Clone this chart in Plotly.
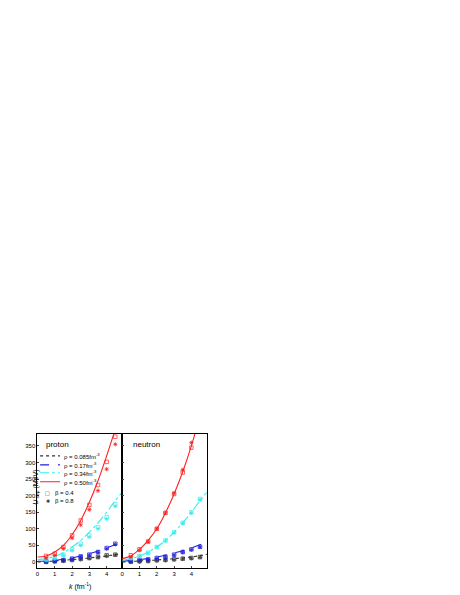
import plotly.graph_objects as go

kc = [0, 0.5, 1, 1.5, 2, 2.5, 3, 3.5, 4, 4.5]
p_red = [15, 18, 30, 50, 82, 125, 180, 245, 320, 400]
p_cyan = [7, 10, 17, 28, 45, 65, 90, 118, 150, 185]
p_blue = [2, 3, 5, 8, 12, 18, 25, 33, 42, 52]
p_black = [0, 1, 3, 5, 7, 9, 12, 15, 18, 22]
n_red = [10, 18, 38, 65, 100, 148, 205, 272, 350, 440]
n_cyan = [5, 10, 18, 30, 45, 65, 90, 118, 150, 185]
n_blue = [2, 4, 7, 10, 15, 20, 27, 34, 42, 52]
n_black = [0, 1, 3, 4, 6, 8, 10, 12, 15, 19]
kc_ext = 4.9
p_ext = {"red": 460, "cyan": 210, "blue": 60, "black": 25}
n_ext = {"red": 500, "cyan": 210, "blue": 60, "black": 23}

km = [0.5, 1, 1.5, 2, 2.5, 3, 3.5, 4, 4.5]
p_red_b4 = [18, 25, 45, 80, 125, 172, 232, 302, 378]
p_red_b8 = [12, 20, 40, 72, 112, 158, 215, 280, 355]
p_cyan_b4 = [8, 12, 22, 38, 55, 80, 105, 135, 175]
p_cyan_b8 = [5, 10, 20, 35, 50, 75, 100, 130, 168]
p_blue_b4 = [2, 4, 6, 10, 17, 22, 30, 42, 55]
p_blue_b8 = [1, 3, 5, 9, 15, 21, 28, 40, 53]
p_black_b4 = [0, 2, 4, 6, 9, 12, 15, 20, 22]
p_black_b8 = [0, 1, 3, 5, 8, 11, 14, 18, 21]
n_red_b4 = [20, 38, 62, 100, 148, 205, 270, 345, None]
n_red_b8 = [15, 35, 60, 100, 148, 208, 278, 360, None]
n_cyan_b4 = [12, 18, 28, 45, 65, 90, 118, 150, 190]
n_cyan_b8 = [10, 17, 27, 44, 63, 88, 116, 148, 188]
n_blue_b4 = [3, 6, 8, 12, 16, 22, 30, 38, 46]
n_blue_b8 = [2, 5, 7, 11, 15, 21, 29, 37, 45]
n_black_b4 = [1, 2, 3, 5, 6, 8, 10, 12, 15]
n_black_b8 = [0, 1, 2, 4, 5, 7, 9, 11, 14]

colors = {"red": "#ff2020", "cyan": "#33eeee", "blue": "#2020dd", "black": "#333333"}
dashes = {"red": "solid", "cyan": "dashdot", "blue": "dash", "black": "dot"}
labels = {"black": "ρ = 0.085fm<sup>-3</sup>", "blue": "ρ = 0.17fm<sup>-3</sup>",
          "cyan": "ρ = 0.34fm<sup>-3</sup>", "red": "ρ = 0.50fm<sup>-3</sup>"}
beta_labels = ["β = 0.4", "β = 0.8"]

fig = go.Figure()
panels = [
    ("x", "y", {"red": p_red, "cyan": p_cyan, "blue": p_blue, "black": p_black}, p_ext,
     {"red": (p_red_b4, p_red_b8), "cyan": (p_cyan_b4, p_cyan_b8),
      "blue": (p_blue_b4, p_blue_b8), "black": (p_black_b4, p_black_b8)}),
    ("x2", "y2", {"red": n_red, "cyan": n_cyan, "blue": n_blue, "black": n_black}, n_ext,
     {"red": (n_red_b4, n_red_b8), "cyan": (n_cyan_b4, n_cyan_b8),
      "blue": (n_blue_b4, n_blue_b8), "black": (n_black_b4, n_black_b8)}),
]
for i, (xa, ya, curves, ext, marks) in enumerate(panels):
    for c in ["black", "blue", "cyan", "red"]:
        fig.add_trace(go.Scatter(x=kc + [kc_ext], y=curves[c] + [ext[c]], xaxis=xa, yaxis=ya,
                                 mode="lines", line=dict(color=colors[c], dash=dashes[c], width=1.1, shape="spline"),
                                 showlegend=False))
        b4, b8 = marks[c]
        fig.add_trace(go.Scatter(x=km, y=b4, xaxis=xa, yaxis=ya, mode="markers",
                                 marker=dict(symbol="square-open", size=3.5, color=colors[c], line=dict(width=0.7)),
                                 showlegend=False))
        fig.add_trace(go.Scatter(x=km, y=b8, xaxis=xa, yaxis=ya, mode="markers",
                                 marker=dict(symbol="asterisk-open", size=3.5, color=colors[c], line=dict(width=0.8, color=colors[c])),
                                 showlegend=False))

# manual legend in left panel (axis coords)
leg_y = [320, 293, 269, 242]
shapes = []
anns = []
for c, yy in zip(["black", "blue", "cyan", "red"], leg_y):
    shapes.append(dict(type="line", xref="x", yref="y", x0=0.15, x1=1.3, y0=yy, y1=yy,
                       line=dict(color=colors[c], dash=dashes[c], width=1.1)))
    anns.append(dict(text=labels[c], x=1.4, y=yy, xref="x", yref="y", xanchor="left", showarrow=False,
                     font=dict(size=6, family="Arial", color="black")))
for sym, lab, yy in zip(["□", "✱"], beta_labels, [208, 184]):
    anns.append(dict(text=sym, x=0.58, y=yy, xref="x", yref="y", showarrow=False,
                     font=dict(size=5, family="DejaVu Sans", color="#333")))
    anns.append(dict(text=lab, x=0.9, y=yy, xref="x", yref="y", xanchor="left", showarrow=False,
                     font=dict(size=6, family="Arial", color="black")))

ax = dict(showline=True, linecolor="black", linewidth=1, mirror=True, ticks="inside", ticklen=2,
          tickfont=dict(size=6, family="Arial", color="black"), showgrid=False, zeroline=False, range=[0, 4.9],
          tickvals=[0, 1, 2, 3, 4])
ay = dict(showline=True, linecolor="black", linewidth=1, mirror=True, ticks="inside", ticklen=2,
          tickfont=dict(size=6, family="Arial", color="black"), showgrid=False, zeroline=False, range=[-18, 386],
          tickvals=[0, 50, 100, 150, 200, 250, 300, 350])
anns += [
    dict(text="proton", x=0.4, y=375, xref="x", yref="y", xanchor="left", yanchor="top",
         showarrow=False, font=dict(size=8, family="Arial", color="black")),
    dict(text="neutron", x=0.5, y=375, xref="x2", yref="y2", xanchor="left", yanchor="top",
         showarrow=False, font=dict(size=8, family="Arial", color="black")),
    dict(text="<i>U</i><sub> sep</sub> (MeV)", x=-0.09, y=0.75, xref="x domain", yref="y domain", textangle=-90,
         showarrow=False, font=dict(size=7, family="Arial", color="black")),
    dict(text="<i>k</i> (fm<sup>-1</sup>)", x=0.5, y=-0.09, xref="x domain", yref="y domain", yanchor="top",
         showarrow=False, font=dict(size=7, family="Arial", color="black")),
]
fig.update_layout(
    width=460, height=595, margin=dict(l=0, r=0, t=0, b=0),
    paper_bgcolor="white", plot_bgcolor="white", showlegend=False,
    xaxis=dict(ax, domain=[0.060, 0.245], anchor="y"),
    xaxis2=dict(ax, domain=[0.245, 0.43], anchor="y2"),
    yaxis=dict(ay, domain=[0.059, 0.284], anchor="x"),
    yaxis2=dict(ay, domain=[0.059, 0.284], anchor="x2", showticklabels=False),
    shapes=shapes, annotations=anns,
)
fig.write_html("out.html")
